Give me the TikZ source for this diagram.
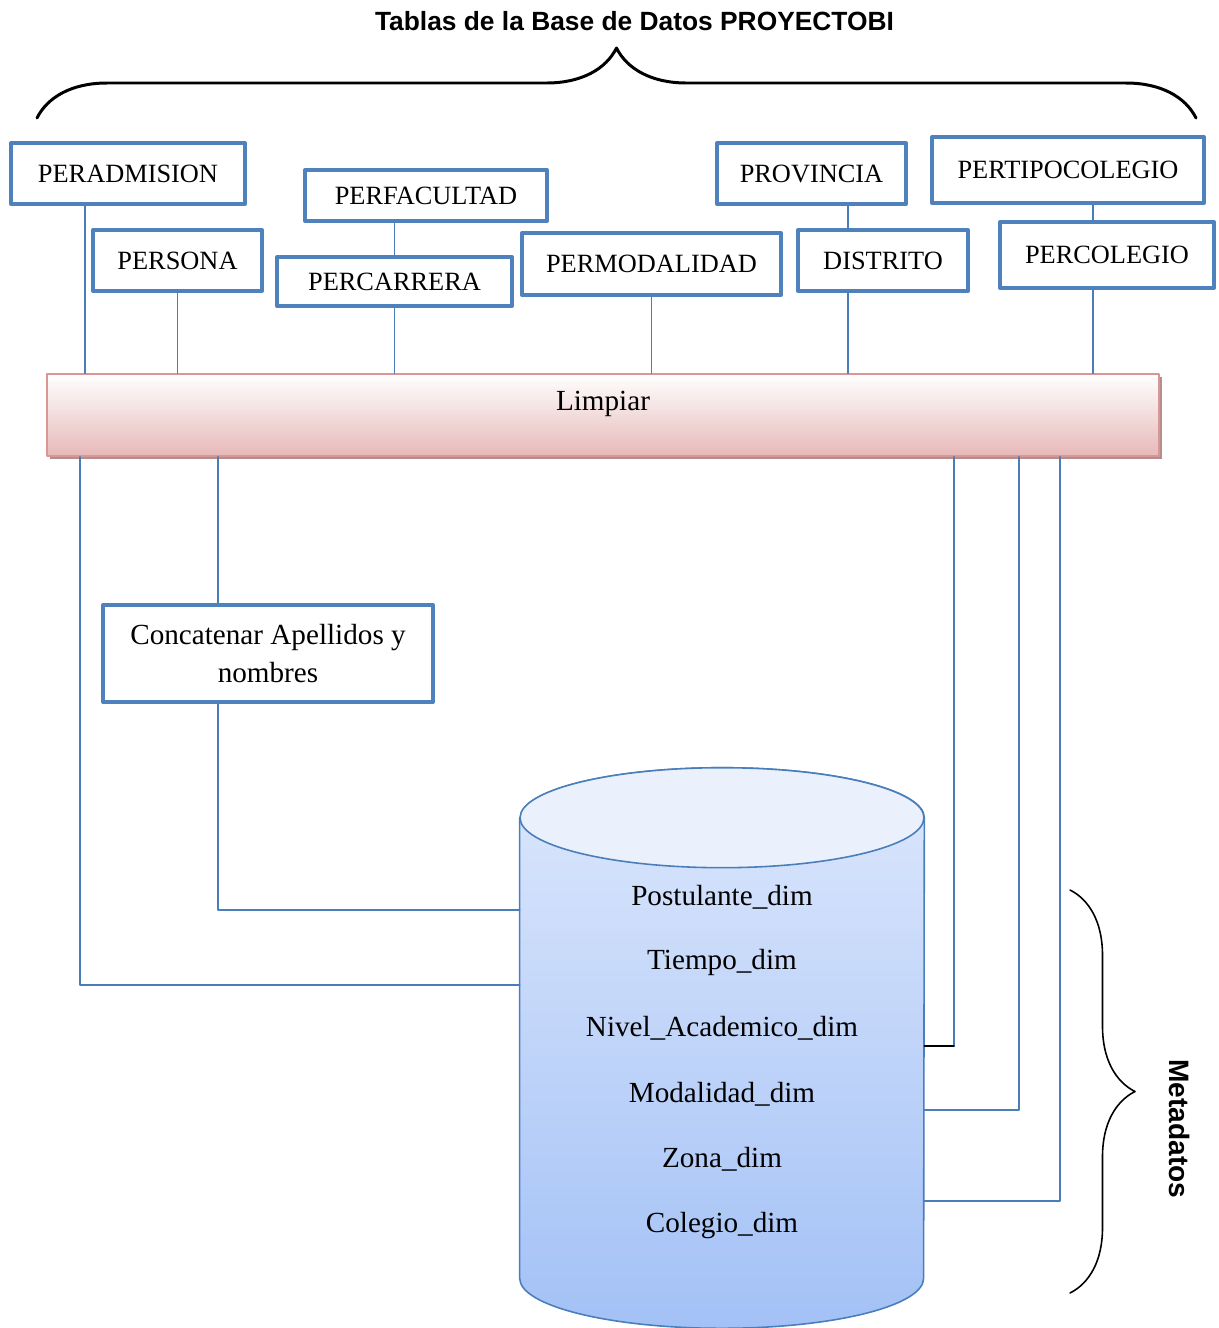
\documentclass[tikz,border=0pt]{standalone}
\usepackage{fontspec}
\setmainfont{Liberation Serif}
\newfontfamily\arialfont{Liberation Sans}
\usepackage{tikz}
\usetikzlibrary{arrows.meta,positioning,calc,decorations.pathreplacing,shadows}
\definecolor{pbBlue}{HTML}{4F81BD}
\definecolor{pbLine}{HTML}{4A7EBB}
\definecolor{pbPink}{HTML}{E6B9B8}
\definecolor{pbPinkEdge}{HTML}{D99694}
\definecolor{pbShadow}{HTML}{B38E8E}
\definecolor{pbCylTop}{HTML}{EAF1FD}
\definecolor{pbCylHigh}{HTML}{DCE7FC}
\definecolor{pbCylLow}{HTML}{A3C1F6}

\tikzset{
  tabla/.style={draw=pbBlue, line width=2.3pt, fill=white, inner sep=0pt,
                font=\fontsize{15}{18}\selectfont},
  conector/.style={draw=pbLine, line width=0.85pt},
  limpieza/.style={draw=pbPinkEdge, line width=0.9pt, top color=white, bottom color=pbPink,
                   drop shadow={shadow xshift=0.06cm, shadow yshift=-0.06cm, fill=pbShadow, opacity=1},
                   font=\fontsize{16.6}{20}\selectfont, inner sep=0pt},
  dimension/.style={font=\fontsize{16.6}{20}\selectfont, inner sep=0pt},
  llave/.style={decorate, decoration={brace, amplitude=#1}}
}

\begin{document}
\begin{tikzpicture}[x=0.02cm, y=-0.02cm, line cap=round, line join=round]
    \useasboundingbox (0,0) rectangle (1218,1328);

    % ── title and top brace ───────────────────────────────────────────────
    \node[font=\arialfont\bfseries\fontsize{15}{18}\selectfont] (titulo) at (634.5,21)
      {Tablas de la Base de Datos PROYECTOBI};
    \draw[llave=1.4cm, line width=1.7pt] (37,118) -- (1196,118);

    % ── source tables ─────────────────────────────────────────────────────
    \node[tabla, minimum width=4.68cm, minimum height=1.22cm] (peradmision)    at (128,173.5)  {PERADMISION};
    \node[tabla, minimum width=3.38cm, minimum height=1.22cm] (persona)        at (177.5,260.5) {PERSONA};
    \node[tabla, minimum width=4.84cm, minimum height=1.02cm] (perfacultad)    at (426,195.5)  {PERFACULTAD};
    \node[tabla, minimum width=4.70cm, minimum height=0.98cm] (percarrera)     at (394.5,281.5) {PERCARRERA};
    \node[tabla, minimum width=5.18cm, minimum height=1.24cm] (permodalidad)   at (651.5,264)  {PERMODALIDAD};
    \node[tabla, minimum width=3.78cm, minimum height=1.22cm] (provincia)      at (811.5,173.5) {PROVINCIA};
    \node[tabla, minimum width=3.40cm, minimum height=1.22cm] (distrito)       at (883,260.5)  {DISTRITO};
    \node[tabla, minimum width=5.44cm, minimum height=1.32cm] (pertipocolegio) at (1068,170)   {PERTIPOCOLEGIO};
    \node[tabla, minimum width=4.28cm, minimum height=1.32cm] (percolegio)     at (1107,255)   {PERCOLEGIO};

    % ── cleaning step ─────────────────────────────────────────────────────
    \node[limpieza, minimum width=22.24cm, minimum height=1.64cm, text depth=0.56cm] (limpiar)
      at (603,415) {Limpiar};

    % columns and levels of the connectors
    \coordinate (colA) at (85,0);
    \coordinate (colB) at (848,0);
    \coordinate (colC) at (1093,0);
    \coordinate (bajaA) at (80,985);
    \coordinate (bajaB) at (218,910);
    \coordinate (bajaC) at (954,1046);
    \coordinate (bajaD) at (1019,1110);
    \coordinate (bajaE) at (1060,1201);

    \draw[conector] (peradmision.south -| colA) -- (limpiar.north -| colA);
    \draw[conector] (persona.south) -- (persona.south |- limpiar.north);
    \draw[conector] (perfacultad.south -| percarrera.north) -- (percarrera.north);
    \draw[conector] (percarrera.south) -- (percarrera.south |- limpiar.north);
    \draw[conector] (permodalidad.south) -- (permodalidad.south |- limpiar.north);
    \draw[conector] (provincia.south -| colB) -- (distrito.north -| colB);
    \draw[conector] (distrito.south -| colB) -- (limpiar.north -| colB);
    \draw[conector] (pertipocolegio.south -| colC) -- (percolegio.north -| colC);
    \draw[conector] (percolegio.south -| colC) -- (limpiar.north -| colC);

    % ── concatenation ─────────────────────────────────────────────────────
    \node[tabla, minimum width=6.6cm, minimum height=1.94cm, align=center,
          font=\fontsize{16.6}{22}\selectfont] (concatenar) at (268,653.5)
      {Concatenar Apellidos y\\nombres};

    % ── data warehouse cylinder ───────────────────────────────────────────
    \node[minimum width=8.08cm, minimum height=9.2cm, inner sep=0pt] (bd) at (722,1048) {};
    \shade[top color=pbCylHigh, bottom color=pbCylLow, draw=pbLine, line width=0.9pt]
      (bd.north west) -- (bd.south west)
      arc[start angle=180, end angle=360, x radius=4.04cm, y radius=1cm]
      -- (bd.north east)
      arc[start angle=0, end angle=180, x radius=4.04cm, y radius=1cm] -- cycle;
    \filldraw[fill=pbCylTop, draw=pbLine, line width=0.9pt]
      (bd.north) ellipse [x radius=4.04cm, y radius=1cm];
    \foreach \nombre [count=\i] in {Postulante\_dim, Tiempo\_dim, Nivel\_Academico\_dim,
                                   Modalidad\_dim, Zona\_dim, Colegio\_dim}
      \node[dimension] (dim\i) at (722,831.5+65.6*\i) {\nombre};

    % ── loads into the dimensions ─────────────────────────────────────────
    \draw[conector] (limpiar.south -| bajaA) -- (bajaA) -- (bd.west |- bajaA);
    \draw[conector] (limpiar.south -| bajaB) -- (concatenar.north -| bajaB);
    \draw[conector] (concatenar.south -| bajaB) -- (bajaB) -- (bd.west |- bajaB);
    \draw[conector] (limpiar.south -| bajaC) -- (bajaC);
    \draw[black, line width=0.85pt] (bajaC) -- (bd.east |- bajaC);
    \draw[conector] (limpiar.south -| bajaD) -- (bajaD) -- (bd.east |- bajaD);
    \draw[conector] (limpiar.south -| bajaE) -- (bajaE) -- (bd.east |- bajaE);

    % ── metadata brace ────────────────────────────────────────────────────
    \draw[llave=1.3cm, line width=0.9pt] (1070,890) -- (1070,1293);
    \node[font=\arialfont\bfseries\fontsize{16}{19}\selectfont, rotate=-90] (metadatos)
      at (1180,1129) {Metadatos};
\end{tikzpicture}
\end{document}
